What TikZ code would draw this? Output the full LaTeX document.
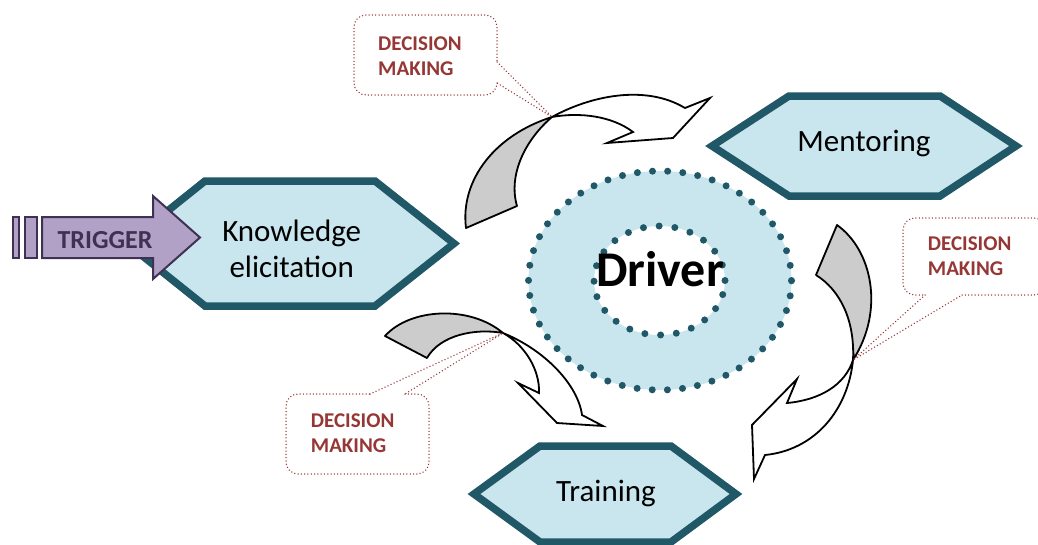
\documentclass[tikz,border=0pt]{standalone}
\usepackage{fontspec}
\setmainfont{Carlito}
\definecolor{hexline}{RGB}{33,88,104}
\definecolor{hexfill}{RGB}{201,230,238}
\definecolor{arrowgray}{RGB}{204,204,204}
\definecolor{calloutred}{RGB}{149,55,53}
\definecolor{trigfill}{RGB}{178,161,199}
\definecolor{trigline}{RGB}{64,49,82}
\begin{document}
\begin{tikzpicture}[x=1pt,y=-1pt,
  hexbox/.style={draw=hexline, fill=hexfill, line width=7.5pt, line join=miter},
  hexlabel/.style={font=\fontsize{31}{36}\selectfont, text=black, align=center, inner sep=0pt},
  dotring/.style={draw=hexline, line width=7pt, line cap=round},
  turnback/.style={draw=black, fill=arrowgray, line width=1.8pt, line join=round},
  turnfront/.style={draw=black, fill=white, line width=1.8pt, line join=miter},
  callout/.style={draw=calloutred, line width=1.5pt, dash pattern=on 0pt off 3.3pt, line cap=round},
  calltext/.style={font=\bfseries\fontsize{21}{25}\selectfont, text=calloutred, align=left, inner sep=0pt, anchor=base west},
  trig/.style={draw=trigline, fill=trigfill, line width=2pt, line join=miter}]

% page frame
\clip (0,0) rectangle (1038,544);
\fill[white] (0,0) rectangle (1038,544);

% crossing points of the twisted arrows
\coordinate (x1) at (552,117);
\coordinate (x2) at (853,360);
\coordinate (x3) at (503,333);

% driver ring
\fill[hexfill, even odd rule] (660,280.5) ellipse [x radius=131.5pt, y radius=109.5pt]
  (659.5,280.5) ellipse [x radius=65.5pt, y radius=54.5pt];
\draw[dotring, dash pattern=on 0pt off 15.17pt] (660,280.5) ellipse [x radius=131.5pt, y radius=109.5pt];
\draw[dotring, dash pattern=on 0pt off 15.8pt] (659.5,280.5) ellipse [x radius=65.5pt, y radius=54.5pt];

% hexagons
\draw[hexbox] (127,243.5) -- (205,181) -- (375,181) -- (454,243.5) -- (375,306) -- (205,306) -- cycle;
\draw[hexbox] (712,146) -- (789,96) -- (940,96) -- (1016,146) -- (940,196) -- (789,196) -- cycle;
\draw[hexbox] (474,494) -- (540,446) -- (671,446) -- (736,494) -- (671,542) -- (540,542) -- cycle;

% twisted arrow: knowledge elicitation -> mentoring
\draw[turnback] (466,228) .. controls (460,180) and (495,135) .. (x1)
  .. controls (525,140) and (508,175) .. (517,206) -- cycle;
\draw[turnfront] (x1) .. controls (590,96) and (645,84) .. (685,108) -- (710,98) -- (673,138)
  -- (607,143) -- (633,132) .. controls (612,116) and (580,112) .. (x1) -- cycle;

% twisted arrow: mentoring -> training
\draw[turnback] (837,225) .. controls (872,250) and (885,310) .. (x2)
  .. controls (855,320) and (840,290) .. (816,275) -- cycle;
\draw[turnfront] (x2) .. controls (845,385) and (820,400) .. (787,403) -- (797,379) -- (752,425)
  -- (754,479) -- (765,455) .. controls (815,450) and (848,410) .. (x2) -- cycle;

% twisted arrow: knowledge elicitation -> training
\draw[turnback] (385,336) .. controls (410,308) and (470,305) .. (x3)
  .. controls (475,328) and (440,335) .. (427,358) -- cycle;
\draw[turnfront] (x3) .. controls (525,345) and (540,370) .. (539,393) -- (518,383) -- (557,423)
  -- (603,426) -- (582,415) .. controls (578,385) and (545,350) .. (x3) -- cycle;

% decision callouts (node base sits on the last line)
\draw[callout, rounded corners=12pt] (497,83) -- (497,95) -- (354,95) -- (354,15) -- (497,15) -- (497,62);
\draw[callout] (497,62) -- (x1) -- (497,83);
\node[calltext] (dm1) at (378,75) {DECISION\\MAKING};

\draw[callout, rounded corners=12pt] (962,295) -- (1046,295) -- (1046,218) -- (903,218) -- (903,295) -- (925,295);
\draw[callout] (925,295) -- (x2) -- (962,295);
\node[calltext] (dm2) at (927.7,275) {DECISION\\MAKING};

\draw[callout, rounded corners=12pt] (405,394) -- (429,394) -- (429,474) -- (286,474) -- (286,394) -- (370,394);
\draw[callout] (370,394) -- (x3) -- (405,394);
\node[calltext] (dm3) at (310.7,452.3) {DECISION\\MAKING};

% trigger arrow
\draw[trig] (13,217) rectangle (19,258);
\draw[trig] (24.5,217) rectangle (36.5,258);
\draw[trig] (42,217) -- (153,217) -- (153,196) -- (200,237.5) -- (153,279) -- (153,258) -- (42,258) -- cycle;
\node[font=\bfseries\fontsize{26}{30}\selectfont, text=trigline, inner sep=0pt, anchor=base] (trigger) at (105,248.3) {TRIGGER};

% labels
\node[hexlabel, anchor=base] (knowledge) at (291.7,277.7) {Knowledge\\elicitation};
\node[hexlabel, anchor=base] (mentoring) at (864,151.7) {Mentoring};
\node[hexlabel, anchor=base] (training) at (606,501.7) {Training};
\node[font=\bfseries\fontsize{50}{60}\selectfont, inner sep=0pt, anchor=base] (driver) at (660,286.7) {Driver};

\end{tikzpicture}
\end{document}
